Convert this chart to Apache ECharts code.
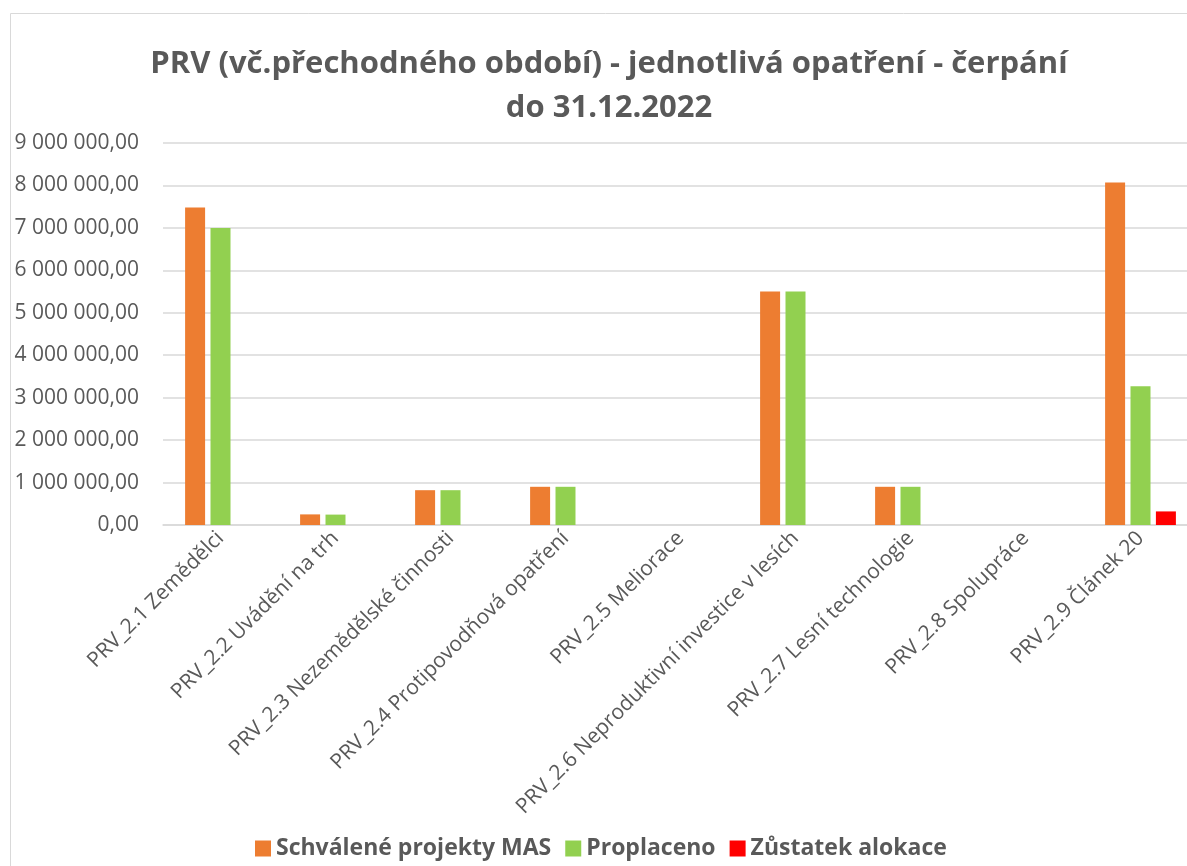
<!DOCTYPE html>
<html>
<head>
<meta charset="utf-8">
<script src="https://cdn.jsdelivr.net/npm/echarts@6/dist/echarts.min.js"></script>
<style>
  html, body { margin: 0; padding: 0; background: #fff; overflow: hidden; }
  #chart { width: 1200px; height: 866px; }
</style>
</head>
<body>
<div id="chart"></div>
<script>
var categories = [
  "PRV_2.1 Zemědělci",
  "PRV_2.2 Uvádění na trh",
  "PRV_2.3 Nezemědělské činnosti",
  "PRV_2.4 Protipovodňová opatření",
  "PRV_2.5 Meliorace",
  "PRV_2.6 Neproduktivní investice v lesích",
  "PRV_2.7 Lesní technologie",
  "PRV_2.8 Spolupráce",
  "PRV_2.9 Článek 20"
];
var schvaleno = [7480000, 250000, 820000, 900000, 0, 5500000, 900000, 0, 8070000];
var proplaceno = [7000000, 245000, 820000, 900000, 0, 5500000, 900000, 0, 3270000];
var zustatek = [0, 0, 0, 0, 0, 0, 0, 0, 320000];

var gray = "#595959";

function fmt(v) {
  var s = String(Math.round(v)).replace(/\B(?=(\d{3})+(?!\d))/g, " ");
  return s + ",00";
}

var myChart = echarts.init(document.getElementById("chart"));
var option = {
  animation: false,
  title: {
    text: "PRV (vč.přechodného období) - jednotlivá opatření - čerpání\ndo 31.12.2022",
    left: 604,
    top: 37,
    textAlign: "center",
    textStyle: {
      fontFamily: "Open Sans",
      fontSize: 31,
      fontWeight: "bold",
      color: gray,
      lineHeight: 44
    }
  },
  graphic: [
    {
      type: "rect",
      shape: { x: 10.5, y: 13.5, width: 1220, height: 900 },
      style: { fill: "none", stroke: "#d9d9d9", lineWidth: 1 },
      silent: true
    }
  ],
  legend: {
    data: ["Schválené projekty MAS", "Proplaceno", "Zůstatek alokace"],
    left: 250,
    top: 832,
    icon: "rect",
    itemWidth: 16,
    itemHeight: 16,
    itemGap: 14,
    textStyle: {
      fontFamily: "Open Sans",
      fontSize: 23,
      fontWeight: "bold",
      color: gray
    }
  },
  grid: {
    left: 163,
    top: 143,
    width: 1035,
    height: 382,
    containLabel: false
  },
  xAxis: {
    type: "category",
    data: categories,
    axisLine: { lineStyle: { color: "#d9d9d9", width: 1.5 } },
    axisTick: { show: false },
    axisLabel: {
      rotate: 45,
      interval: 0,
      margin: 10,
      fontFamily: "Open Sans",
      fontSize: 21,
      color: gray
    }
  },
  yAxis: {
    type: "value",
    min: 0,
    max: 9000000,
    interval: 1000000,
    axisLine: { show: false },
    axisTick: { show: false },
    splitLine: { lineStyle: { color: "#d9d9d9", width: 1.5 } },
    axisLabel: {
      margin: 24,
      fontFamily: "Open Sans",
      fontSize: 21,
      color: gray,
      formatter: fmt
    }
  },
  series: [
    {
      name: "Schválené projekty MAS",
      type: "bar",
      data: schvaleno,
      barWidth: 20,
      barGap: "27%",
      itemStyle: { color: "#ED7D31" }
    },
    {
      name: "Proplaceno",
      type: "bar",
      data: proplaceno,
      barWidth: 20,
      barGap: "27%",
      itemStyle: { color: "#92D050" }
    },
    {
      name: "Zůstatek alokace",
      type: "bar",
      data: zustatek,
      barWidth: 20,
      barGap: "27%",
      itemStyle: { color: "#FF0000" }
    }
  ]
};
myChart.setOption(option);
</script>
</body>
</html>
